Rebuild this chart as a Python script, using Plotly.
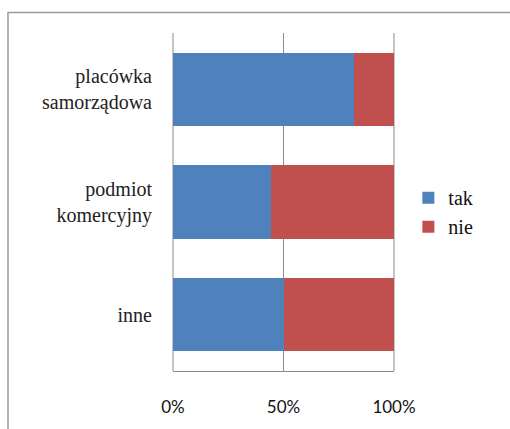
import plotly.graph_objects as go

# Share of answers per institution type (percent)
categories = ["placówka<br>samorządowa", "podmiot<br>komercyjny", "inne"]
tak = [82.0, 44.5, 50.0]
nie = [18.0, 55.5, 50.0]
x_ticks = [0, 50, 100]
x_tick_labels = ["0%", "50%", "100%"]

BLUE = "#4F81BD"
RED = "#C0504D"
GRID = "#8c8c8c"
SERIF = "Liberation Serif, DejaVu Serif, Times New Roman, serif"

fig = go.Figure()
fig.add_trace(go.Bar(y=categories, x=tak, name="tak", orientation="h", legendgroup="tak",
                     marker=dict(color=BLUE, line=dict(width=0))))
fig.add_trace(go.Bar(y=categories, x=nie, name="nie", orientation="h", legendgroup="nie",
                     marker=dict(color=RED, line=dict(width=0))))

fig.update_layout(
    width=510, height=429,
    margin=dict(l=173, r=116, t=33, b=49),
    paper_bgcolor="white", plot_bgcolor="rgba(0,0,0,0)",
    barmode="stack", bargap=0.35,
    showlegend=True,
    legend=dict(x=1.065, y=0.47, xanchor="left", yanchor="middle",
                traceorder="normal", font=dict(family=SERIF, size=20, color="#111"),
                itemwidth=30, tracegroupgap=3, bgcolor="rgba(0,0,0,0)"),
    xaxis=dict(range=[0, 100], tickvals=x_ticks, ticktext=x_tick_labels,
               showgrid=True, gridcolor=GRID, gridwidth=1, zeroline=False,
               showline=True, linecolor=GRID, linewidth=1, ticks="",
               tickfont=dict(family="Lato", size=17, color="#111"),
               ticklabelstandoff=21, fixedrange=True),
    yaxis=dict(autorange="reversed", showgrid=False, zeroline=False, showline=False,
               ticks="", tickfont=dict(family=SERIF, size=20, color="#222"),
               ticklabelstandoff=20, fixedrange=True),
)

# Gridlines at the ends of the value axis (plot edges)
for xv in (0, 1):
    fig.add_shape(type="line", xref="paper", yref="paper", x0=xv, x1=xv, y0=0, y1=1,
                  line=dict(color=GRID, width=1), layer="below")

# Outer chart frame (runs past the right and bottom edges of the page)
fig.add_shape(type="rect", xref="paper", yref="paper",
              x0=-0.7466, x1=1.6, y0=-0.3, y1=1.0605,
              line=dict(color="#9a9a9a", width=1.5), layer="below")

fig.write_html("out.html")
